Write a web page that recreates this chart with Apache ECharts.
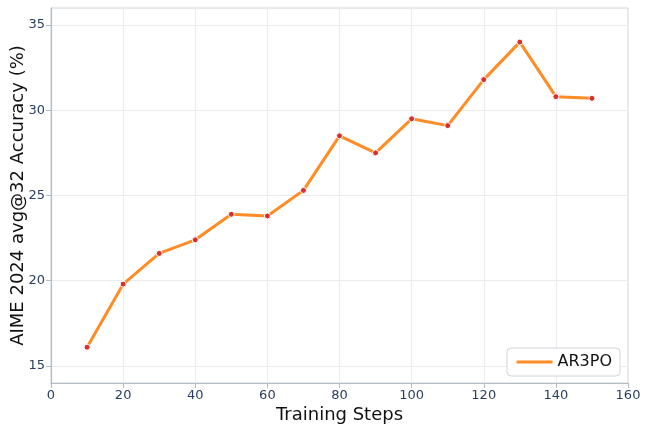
<!DOCTYPE html>
<html>
<head>
<meta charset="utf-8">
<script src="https://cdn.jsdelivr.net/npm/echarts@6/dist/echarts.min.js"></script>
<style>
  html, body { margin: 0; padding: 0; background: #fff; }
  #chart { width: 648px; height: 432px; }
</style>
</head>
<body>
<div id="chart"></div>
<script>
const steps = [10, 20, 30, 40, 50, 60, 70, 80, 90, 100, 110, 120, 130, 140, 150]
const accuracy = [16.1, 19.8, 21.6, 22.4, 23.9, 23.8, 25.3, 28.5, 27.5, 29.5, 29.1, 31.8, 34.0, 30.8, 30.7]
const yTicks = [15, 20, 25, 30, 35]
const seriesName = 'AR3PO'

const chart = echarts.init(document.getElementById('chart'))
const tickColor = '#2a3f5f'
const axisGray = '#b4bcc6'

const option = {
  animation: false,
  backgroundColor: '#fff',
  textStyle: { fontFamily: 'DejaVu Sans' },
  grid: {
    left: 51, right: 20, top: 8, bottom: 49,
    outerBoundsMode: 'none',
    containLabel: false,
    show: true,
    borderColor: '#ccd2da',
    borderWidth: 1
  },
  legend: {
    data: [seriesName],
    right: 28,
    bottom: 56,
    itemWidth: 36,
    itemHeight: 14,
    itemGap: 8,
    itemStyle: { opacity: 0 },
    lineStyle: { color: '#ff8c24', width: 3 },
    textStyle: { fontSize: 16, color: '#111', fontFamily: 'DejaVu Sans' },
    padding: [6, 8, 6, 8],
    borderColor: '#d0d5dc',
    borderWidth: 1,
    borderRadius: 4,
    backgroundColor: '#fff'
  },
  xAxis: {
    type: 'value',
    min: 0,
    max: 160,
    interval: 20,
    name: 'Training Steps',
    nameLocation: 'middle',
    nameGap: 23,
    nameMoveOverlap: false,
    nameTextStyle: { fontSize: 18, color: '#111' },
    axisLine: { show: true, lineStyle: { color: axisGray, width: 1.2 } },
    axisTick: { show: true, length: 5, lineStyle: { color: axisGray } },
    axisLabel: { fontSize: 13, color: tickColor, margin: 6 },
    splitLine: { show: true, lineStyle: { color: '#ebebeb' } }
  },
  yAxis: {
    type: 'value',
    min: 14,
    max: 36,
    name: 'AIME 2024 avg@32 Accuracy (%)',
    nameLocation: 'middle',
    nameGap: 24,
    nameMoveOverlap: false,
    nameTextStyle: { fontSize: 18, color: '#111' },
    axisLine: { show: true, lineStyle: { color: axisGray, width: 1.2 } },
    axisTick: { show: true, length: 5, customValues: yTicks, lineStyle: { color: axisGray } },
    axisLabel: { fontSize: 13, color: tickColor, margin: 6, customValues: yTicks },
    splitLine: { show: true, lineStyle: { color: '#ebebeb' } }
  },
  series: [
    {
      name: seriesName,
      type: 'line',
      data: steps.map((s, i) => [s, accuracy[i]]),
      symbol: 'circle',
      symbolSize: 6,
      lineStyle: { color: '#ff8c24', width: 3 },
      itemStyle: { color: '#d8312a', borderColor: '#fff', borderWidth: 1 },
      z: 3
    }
  ]
}
chart.setOption(option)
</script>
</body>
</html>
